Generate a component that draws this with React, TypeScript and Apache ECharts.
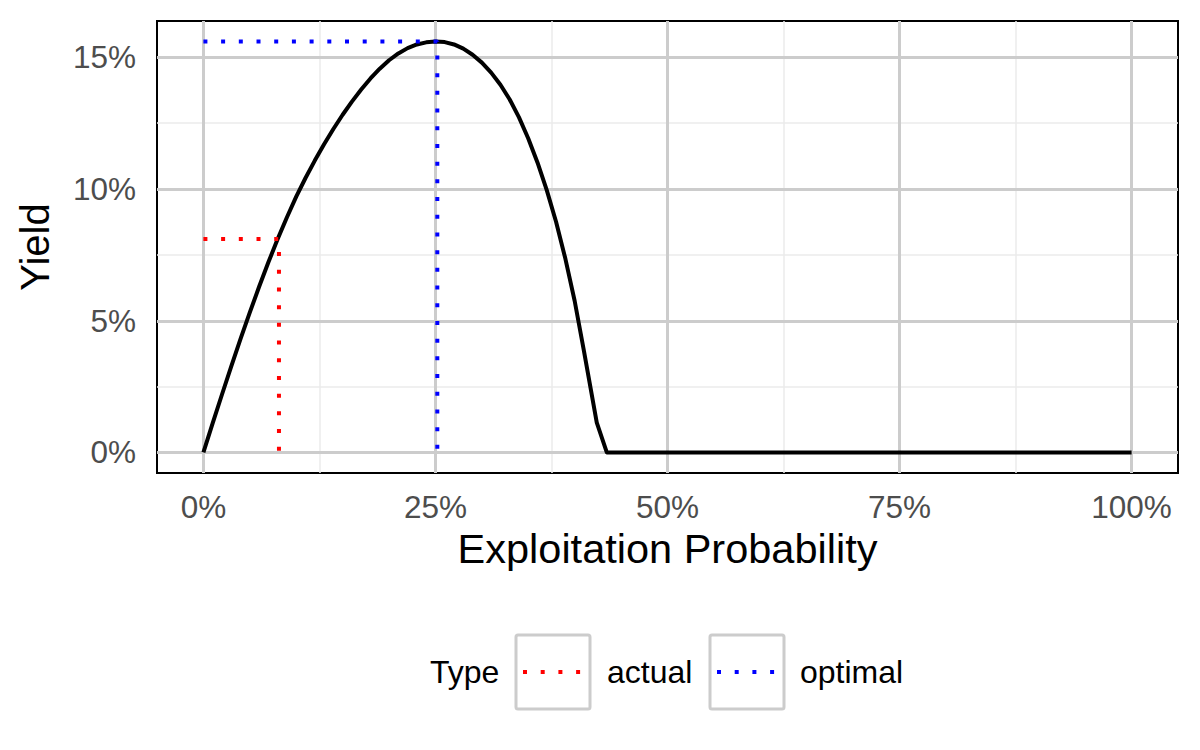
import React, { useEffect, useRef } from "react";
import * as echarts from "echarts";

// Exploitation probability (%) and yield (%)
const exploitation = [
  0, 1, 2, 3, 4, 5, 6, 7, 8, 9, 10, 11, 12, 13, 14, 15, 16, 17, 18, 19, 20,
  21, 22, 23, 24, 25, 26, 27, 28, 29, 30, 31, 32, 33, 34, 35, 36, 37, 38, 39,
  40, 41, 42.38, 43.46, 100,
];
const yieldValues = [
  0, 1.11, 2.2, 3.27, 4.31, 5.32, 6.29, 7.22, 8.1, 8.93, 9.71, 10.42, 11.08,
  11.7, 12.28, 12.82, 13.32, 13.78, 14.2, 14.57, 14.89, 15.15, 15.35, 15.49,
  15.57, 15.6, 15.58, 15.49, 15.33, 15.1, 14.8, 14.42, 13.96, 13.4, 12.72,
  11.92, 11.0, 9.95, 8.75, 7.35, 5.75, 3.85, 1.13, 0, 0,
];

// Reference points (x = exploitation %, y = yield %)
const actualPoint = [8.14, 8.1];
const optimalPoint = [25.2, 15.6];

const xTicks = [0, 25, 50, 75, 100];
const xMinor = [12.5, 37.5, 62.5, 87.5];
const yTicks = [0, 5, 10, 15];
const yMinor = [2.5, 7.5, 12.5];

const legendTypes = ["actual", "optimal"];
const typeColors = { actual: "#ff0000", optimal: "#0000ff" };

const FONT = "Liberation Sans, Arial, Helvetica, sans-serif";
const DOT: number[] = [4, 13.7];

export default function App() {
  const ref = useRef<HTMLDivElement>(null);

  useEffect(() => {
    if (!ref.current) return;
    const chart = echarts.init(ref.current, null, { renderer: "svg" });

    const curve = exploitation.map((x, i) => [x, yieldValues[i]]);
    const refPath = (p: number[]) => [
      [0, p[1]],
      [p[0], p[1]],
      [p[0], 0],
    ];

    const legendY = 672;
    const legendGraphic: any[] = [
      {
        type: "text",
        left: 430,
        top: legendY - 16,
        style: { text: "Type", font: `32px ${FONT}`, fill: "#000" },
      },
    ];
    const boxLefts = [516, 710];
    const textLefts = [607, 800];
    legendTypes.forEach((t, i) => {
      legendGraphic.push({
        type: "rect",
        shape: { x: boxLefts[i], y: legendY - 37, width: 74, height: 74, r: 2 },
        style: { fill: "#fff", stroke: "#cccccc", lineWidth: 3 },
      });
      legendGraphic.push({
        type: "line",
        shape: { x1: boxLefts[i] + 7, y1: legendY, x2: boxLefts[i] + 67, y2: legendY },
        style: {
          stroke: (typeColors as any)[t],
          lineWidth: 4,
          lineDash: DOT,
        },
      });
      legendGraphic.push({
        type: "text",
        left: textLefts[i],
        top: legendY - 16,
        style: { text: t, font: `32px ${FONT}`, fill: "#000" },
      });
    });

    chart.setOption({
      animation: false,
      backgroundColor: "#ffffff",
      grid: {
        left: 157,
        right: 22,
        top: 21,
        bottom: 277,
        show: true,
        borderColor: "#000",
        borderWidth: 2,
        backgroundColor: "transparent",
      },
      xAxis: {
        type: "value",
        min: -5,
        max: 105,
        name: "Exploitation Probability",
        nameLocation: "middle",
        nameGap: 53,
        nameTextStyle: { fontSize: 41.5, color: "#000", fontFamily: FONT },
        axisLine: { show: false },
        splitLine: { show: false },
        axisTick: {
          show: true,
          customValues: xTicks,
          length: 9,
          lineStyle: { color: "#000", width: 2.5 },
        },
        axisLabel: {
          customValues: xTicks,
          formatter: (v: number) => `${v}%`,
          fontSize: 31.5,
          color: "#4d4d4d",
          fontFamily: FONT,
          margin: 18,
        },
      },
      yAxis: {
        type: "value",
        min: -0.78,
        max: 16.38,
        name: "Yield",
        nameLocation: "middle",
        nameGap: 102,
        nameRotate: 90,
        nameTextStyle: { fontSize: 40, color: "#000", fontFamily: FONT },
        axisLine: { show: false },
        splitLine: { show: false },
        axisTick: {
          show: true,
          customValues: yTicks,
          length: 9,
          lineStyle: { color: "#000", width: 2.5 },
        },
        axisLabel: {
          customValues: yTicks,
          formatter: (v: number) => `${v}%`,
          fontSize: 31.5,
          color: "#4d4d4d",
          fontFamily: FONT,
          margin: 21,
        },
      },
      graphic: legendGraphic,
      series: [
        {
          name: "minor grid",
          type: "line",
          data: [],
          silent: true,
          z: 1,
          markLine: {
            silent: true,
            z: 1,
            symbol: "none",
            label: { show: false },
            emphasis: { disabled: true },
            lineStyle: { color: "#ebebeb", width: 1.5, type: "solid" },
            data: [
              ...xMinor.map((v) => ({ xAxis: v })),
              ...yMinor.map((v) => ({ yAxis: v })),
            ],
          },
        },
        {
          name: "major grid",
          type: "line",
          data: [],
          silent: true,
          z: 2,
          markLine: {
            silent: true,
            z: 2,
            symbol: "none",
            label: { show: false },
            emphasis: { disabled: true },
            lineStyle: { color: "#cccccc", width: 3, type: "solid" },
            data: [
              ...xTicks.map((v) => ({ xAxis: v })),
              ...yTicks.map((v) => ({ yAxis: v })),
            ],
          },
        },
        {
          name: "Yield",
          type: "line",
          data: curve,
          showSymbol: false,
          smooth: false,
          z: 10,
          lineStyle: { color: "#000", width: 4, join: "round" },
        },
        {
          name: "actual",
          type: "line",
          data: refPath(actualPoint),
          showSymbol: false,
          z: 11,
          lineStyle: { color: typeColors.actual, width: 4, type: DOT, cap: "butt" },
        },
        {
          name: "optimal",
          type: "line",
          data: refPath(optimalPoint),
          showSymbol: false,
          z: 11,
          lineStyle: { color: typeColors.optimal, width: 4, type: DOT, cap: "butt" },
        },
      ],
    });

    return () => chart.dispose();
  }, []);

  return <div ref={ref} style={{ width: 1200, height: 750, margin: -8 }} />;
}
